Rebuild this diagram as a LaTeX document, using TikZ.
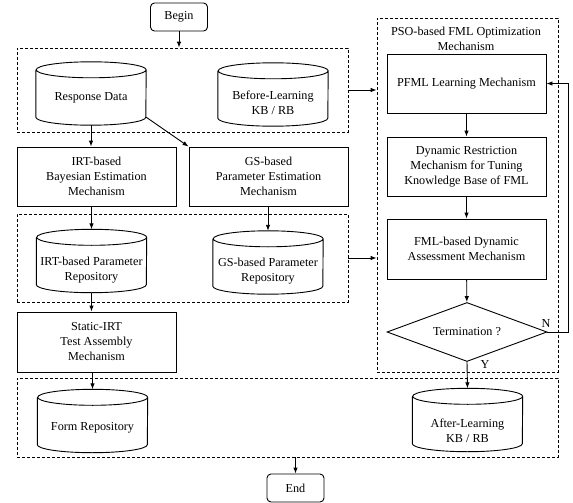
\documentclass[tikz,border=0pt]{standalone}
\usepackage{fontspec}
\setmainfont{Liberation Serif}
\usetikzlibrary{arrows.meta,shapes.geometric}
\tikzset{
  ln/.style={line width=0.9pt},
  arr/.style={ln,-{Latex[length=6pt,width=4.5pt]}},
  pbox/.style={draw,ln,minimum width=159pt,minimum height=59pt,inner sep=0pt,align=center},
  rbox/.style={draw,ln,rounded corners=4pt,minimum width=57pt,minimum height=28pt,inner sep=0pt},
  dbox/.style={draw,line width=0.7pt,dash pattern=on 3pt off 2pt,inner sep=0pt},
  cylnode/.style={minimum width=110pt,minimum height=63pt,inner sep=0pt},
  txt/.style={align=center,inner sep=0pt},
  dia/.style={draw,ln,diamond,aspect=2.7,minimum width=160pt,minimum height=59pt,inner sep=0pt},
}
\newcommand\drawcyl[1]{\draw[ln] ([yshift=-8pt]#1.north west) -- ([yshift=8pt]#1.south west)
  arc[start angle=180,end angle=360,x radius=55pt,y radius=8pt] -- ([yshift=-8pt]#1.north east)
  arc[start angle=0,end angle=360,x radius=55pt,y radius=8pt];}
\begin{document}
\begin{tikzpicture}[x=1pt,y=-1pt,font=\fontsize{12.2}{15}\selectfont]
\useasboundingbox (0,0) rectangle (573,503);
% dashed groups
\node[dbox,minimum width=331pt,minimum height=84pt] (b1) at (182.5,90) {};
\node[dbox,minimum width=331pt,minimum height=88pt] (b2) at (182.5,258) {};
\node[dbox,minimum width=541pt,minimum height=79pt] (b3) at (287.5,417.5) {};
\node[dbox,minimum width=181pt,minimum height=354pt] (pso) at (467.5,195) {};
\node[txt] (psot) at (466,38.5) {PSO-based FML Optimization\\Mechanism};
% begin / end
\node[rbox] (begin) at (179,17) {Begin};
\node[rbox] (end) at (295.5,488) {End};
% cylinders
\node[cylnode] (rd) at (91,93.5) {};
\node[cylnode] (bl) at (273,94.5) {};
\node[cylnode] (irtp) at (91.5,261) {};
\node[cylnode] (gsp) at (268,262.5) {};
\node[cylnode] (fr) at (92.5,421) {};
\node[cylnode] (al) at (467.5,420) {};
\drawcyl{rd}\drawcyl{bl}\drawcyl{irtp}\drawcyl{gsp}\drawcyl{fr}\drawcyl{al}
\node[txt] (rdt) at (91,98) {Response Data};
\node[txt] (blt) at (273,103) {Before-Learning\\KB / RB};
\node[txt] (irtpt) at (91.5,270) {IRT-based Parameter\\Repository};
\node[txt] (gspt) at (268,271) {GS-based Parameter\\Repository};
\node[txt] (frt) at (92.5,428) {Form Repository};
\node[txt] (alt) at (467.5,431) {After-Learning\\KB / RB};
% process boxes
\node[pbox] (irt) at (96.5,176.5) {IRT-based\\Bayesian Estimation\\Mechanism};
\node[pbox] (gs) at (268.5,176.5) {GS-based\\Parameter Estimation\\Mechanism};
\node[pbox,minimum height=60pt] (st) at (96.5,342) {Static-IRT\\Test Assembly\\Mechanism};
\node[pbox] (pfml) at (466.5,83.5) {PFML Learning Mechanism};
\node[pbox] (dr) at (466.5,166.5) {Dynamic Restriction\\Mechanism for Tuning\\Knowledge Base of FML};
\node[pbox,minimum height=60pt] (fa) at (466.5,249) {FML-based Dynamic\\Assessment Mechanism};
\node[dia] (term) at (467,332) {Termination ?};
\node[txt] (nlab) at (546,324) {N};
\node[txt] (ylab) at (485,365) {Y};
% connectors
\draw[arr] (begin.south) -- (begin.south |- b1.north);
\draw[arr] (rd.south) -- (rd.south |- irt.north);
\draw[arr] ([yshift=8pt]rd.south east) -- (gs.north west);
\draw[arr] (irt.south -| irtp.north) -- (irtp.north);
\draw[arr] (gs.south -| gsp.north) -- (gsp.north);
\draw[arr] (irtp.south) -- (irtp.south |- st.north);
\draw[arr] (st.south -| fr.north) -- (fr.north);
\draw[arr] (b1.east) -- (b1.east -| pso.west);
\draw[arr] (b2.east) -- (b2.east -| pso.west);
\draw[arr] (pfml) -- (dr);
\draw[arr] (dr) -- (fa);
\draw[arr] (fa) -- (term);
\draw[arr] (term.east) -- ++(21,0) |- (pfml.east);
\draw[arr] (term.south) -- (al.north);
\draw[arr] (end.north |- b3.south) -- (end.north);
\end{tikzpicture}
\end{document}
